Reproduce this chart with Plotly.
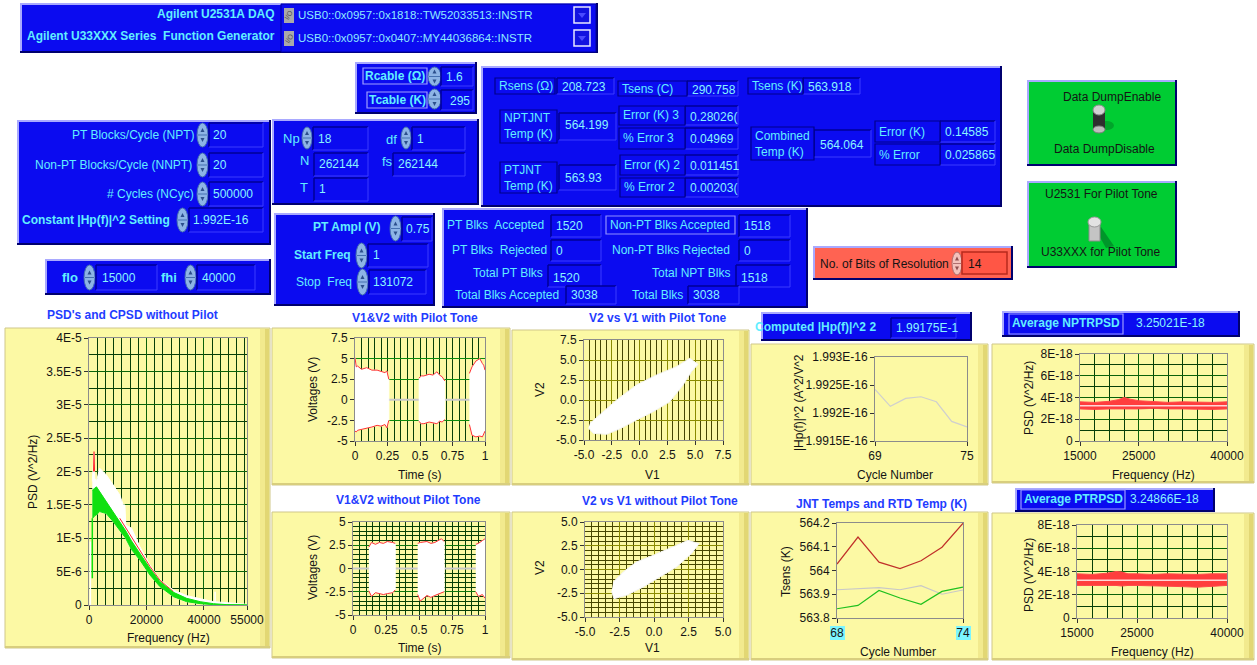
import plotly.graph_objects as go

W, H = 1257, 665
FONT = "Liberation Sans"

# ---------------- data ----------------
# PSD's and CPSD without pilot (Hz, V^2/Hz)
psd_freq = [1150, 1750, 2000, 2600, 3700, 6000, 8400, 10700, 11900, 12500, 12800,
            14800, 17700, 21200, 24700, 29400, 34000, 38700, 43300, 48000, 52700, 55000]
psd_v1_upper = [1.85e-5, 2.28e-5, 1.90e-5, 1.85e-5, 2.05e-5, 1.95e-5, 1.80e-5, 1.65e-5,
                1.50e-5, 1.50e-5, 1.20e-5, 1.15e-5, 8.75e-6, 6.0e-6, 3.75e-6, 2.25e-6,
                1.4e-6, 9.0e-7, 5.0e-7, 3.5e-7, 2.0e-7, 1.0e-7]
psd_v2_upper = [1.72e-5, 1.75e-5, 1.75e-5, 1.77e-5, 1.70e-5, 1.55e-5, 1.40e-5, 1.25e-5,
                1.18e-5, 1.14e-5, 1.11e-5, 9.6e-6, 7.75e-6, 5.5e-6, 3.5e-6, 1.9e-6,
                1.0e-6, 5.0e-7, 2.0e-7, 5.0e-8, 2.0e-8, 0.0]
psd_v2_lower = [1.30e-5, 1.32e-5, 1.34e-5, 1.35e-5, 1.40e-5, 1.37e-5, 1.25e-5, 1.12e-5,
                1.05e-5, 1.02e-5, 1.00e-5, 8.3e-6, 6.75e-6, 4.5e-6, 2.75e-6, 1.25e-6,
                5.0e-7, 2.0e-7, 5.0e-8, 0.0, 0.0, 0.0]
cpsd_freq = [1600, 1750, 1900, 10700, 14800, 17700, 21200, 24700, 29400]
cpsd_vals = [2.0e-5, 2.3e-5, 2.0e-5, 1.30e-5, 1.02e-5, 8.2e-6, 5.8e-6, 3.7e-6, 2.0e-6]
dc_spike_freq = [470, 470]
dc_spike_vals = [0.0, 9.5e-6]
hf_spike_freq = [43900, 43900]
hf_spike_vals = [3.0e-7, 2.0e-6]
v2_edge_freq = [1150, 1150]
v2_edge_vals = [4.0e-6, 1.3e-5]
psd_xticks = [0, 20000, 40000, 55000]
psd_xlabels = ["0", "20000", "40000", "55000"]
psd_yticks = [0, 5e-6, 1e-5, 1.5e-5, 2e-5, 2.5e-5, 3e-5, 3.5e-5, 4e-5]
psd_ylabels = ["0", "5E-6", "1E-5", "1.5E-5", "2E-5", "2.5E-5", "3E-5", "3.5E-5", "4E-5"]

# V1&V2 with pilot tone: burst envelopes (s, V)
wp_idle_t = [0, 1]
wp_idle_v = [0, 0]
wp_b1_t = [0.0, 0.01, 0.02, 0.05, 0.09, 0.13, 0.17, 0.20, 0.23, 0.245, 0.26]
wp_b1_hi = [5.1, 4.0, 4.1, 3.7, 3.9, 3.6, 3.6, 3.4, 3.3, 3.5, 2.5]
wp_b1_lo = [-3.8, -3.9, -3.7, -3.6, -3.4, -3.3, -3.1, -3.2, -3.0, -3.4, -2.5]
wp_b2_t = [0.49, 0.51, 0.53, 0.57, 0.60, 0.63, 0.65, 0.67, 0.69]
wp_b2_hi = [2.6, 2.9, 2.9, 3.1, 3.0, 3.4, 3.0, 2.8, 2.3]
wp_b2_lo = [-2.6, -2.9, -2.9, -2.7, -2.8, -2.9, -2.6, -2.7, -2.4]
wp_b3_t = [0.88, 0.90, 0.93, 0.96, 0.98, 0.99, 1.0]
wp_b3_hi = [3.2, 4.0, 4.7, 5.0, 4.4, 4.2, 3.6]
wp_b3_lo = [-3.0, -4.3, -4.5, -4.4, -4.5, -4.2, -3.8]

# V1&V2 without pilot tone
np_idle_t = [0, 1]
np_idle_v = [0, 0]
np_b1_t = [0.12, 0.14, 0.17, 0.20, 0.23, 0.26, 0.30, 0.32]
np_b1_hi = [2.3, 2.8, 2.6, 2.8, 2.7, 2.9, 2.8, 2.7]
np_b1_lo = [-2.4, -3.0, -2.6, -2.7, -2.8, -2.7, -2.6, -2.3]
np_b2_t = [0.49, 0.51, 0.56, 0.59, 0.62, 0.67, 0.69]
np_b2_hi = [2.7, 2.8, 2.9, 2.7, 2.8, 3.2, 2.9]
np_b2_lo = [-2.8, -3.5, -2.9, -3.1, -2.9, -2.6, -2.5]
np_b3_t = [0.93, 0.95, 0.98, 1.0]
np_b3_hi = [2.6, 2.7, 3.0, 3.2]
np_b3_lo = [-2.5, -3.0, -2.8, -3.2]
time_ticks = [0, 0.25, 0.5, 0.75, 1]
time_labels = ["0", "0.25", "0.5", "0.75", "1"]
volt_ticks_wp = [-5, -2.5, 0, 2.5, 5, 7.5]
volt_labels_wp = ["-5", "-2.5", "0", "2.5", "5", "7.5"]
volt_ticks_np = [-5, -2.5, 0, 2.5, 5]
volt_labels_np = ["-5", "-2.5", "0", "2.5", "5"]

# V2 vs V1 outlines of the point clouds (V)
xy_wp_v1 = [-4.6, -4.16, -2.97, -1.77, -0.28, 1.22, 2.72, 3.91, 4.66, 5.26, 4.51, 3.31,
            1.52, -0.28, -2.07, -3.56, -4.46]
xy_wp_v2 = [-3.5, -4.17, -4.29, -3.6, -2.5, -1.46, -0.21, 1.88, 3.54, 4.46, 5.21, 4.17,
            3.13, 1.88, 0.0, -1.88, -2.92]
xy_np_v1 = [-3.07, -2.9, -1.99, -0.78, 0.42, 1.63, 2.71, 3.27, 2.47, 1.39, -0.06, -1.27,
            -2.23, -2.95]
xy_np_v2 = [-2.3, -3.07, -2.72, -1.84, -0.79, 0.26, 1.67, 2.72, 3.07, 2.37, 1.49, 0.79,
            -0.26, -1.32]
xy_ticks_wp = [-5, -2.5, 0, 2.5, 5, 7.5]
xy_labels_wp = ["-5.0", "-2.5", "0.0", "2.5", "5.0", "7.5"]
xy_ticks_np = [-5, -2.5, 0, 2.5, 5]
xy_labels_np = ["-5.0", "-2.5", "0.0", "2.5", "5.0"]

# Computed |Hp(f)|^2 per cycle
hp_cycle = [69, 70, 71, 72, 73, 74, 75]
hp_vals = [1.99242e-16, 1.99212e-16, 1.99226e-16, 1.99229e-16, 1.99220e-16,
           1.99185e-16, 1.99175e-16]
hp_yticks = [1.9915e-16, 1.992e-16, 1.9925e-16, 1.993e-16]
hp_ylabels = ["1.9915E-16", "1.992E-16", "1.9925E-16", "1.993E-16"]

# JNT temps and RTD temp (K)
jnt_cycle = [68, 69, 70, 71, 72, 73, 74]
jnt_npt = [564.027, 564.141, 564.035, 564.008, 564.041, 564.098, 564.199]
jnt_rtd = [563.919, 563.923, 563.928, 563.919, 563.936, 563.900, 563.918]
jnt_pt = [563.839, 563.853, 563.916, 563.884, 563.858, 563.912, 563.930]
jnt_yticks = [563.8, 563.9, 564.0, 564.1, 564.2]
jnt_ylabels = ["563.8", "563.9", "564", "564.1", "564.2"]

# Ratio PSDs (Hz, V^2/Hz)
rpsd_freq = [15000, 17500, 20000, 21500, 22500, 23500, 25000, 27500, 30000, 32500, 35000,
             37500, 40000]
nptrpsd_hi = [3.60e-18, 3.55e-18, 3.65e-18, 3.80e-18, 4.00e-18, 3.85e-18, 3.70e-18,
              3.60e-18, 3.55e-18, 3.60e-18, 3.55e-18, 3.55e-18, 3.60e-18]
nptrpsd_lo = [2.95e-18, 2.90e-18, 2.95e-18, 2.95e-18, 3.00e-18, 2.95e-18, 2.95e-18,
              3.00e-18, 2.95e-18, 2.95e-18, 2.95e-18, 2.90e-18, 2.95e-18]
ptrpsd_hi = [3.80e-18, 3.75e-18, 3.85e-18, 4.00e-18, 3.95e-18, 3.80e-18, 3.80e-18,
             3.75e-18, 3.80e-18, 3.75e-18, 3.75e-18, 3.80e-18, 3.80e-18]
ptrpsd_lo = [2.80e-18, 2.75e-18, 2.80e-18, 2.80e-18, 2.75e-18, 2.80e-18, 2.80e-18,
             2.80e-18, 2.75e-18, 2.70e-18, 2.65e-18, 2.75e-18, 2.80e-18]
avg_nptrpsd = 3.25021e-18
avg_ptrpsd = 3.24866e-18
rpsd_xticks = [15000, 25000, 40000]
rpsd_xlabels = ["15000", "25000", "40000"]
rpsd_yticks = [0, 2e-18, 4e-18, 6e-18, 8e-18]
rpsd_ylabels = ["0", "2E-18", "4E-18", "6E-18", "8E-18"]

# ---------------- drawing helpers ----------------
BLUE = "#0B0BF0"
P_LIGHT = "#A9A9FF"
P_DARK = "#00006E"
LABEL = "#62EEFF"
VALUE = "#8AF4FF"
TITLE = "#1F3CFF"
INK = "#141414"

shapes = []
annotations = []


def X(px):
    return px / W


def Y(py):
    return 1 - py / H


def rect(x0, y0, x1, y1, fill, line=None, lw=1):
    shapes.append(dict(type="rect", xref="paper", yref="paper", x0=X(x0), x1=X(x1),
                       y0=Y(y1), y1=Y(y0), fillcolor=fill, layer="below",
                       line=dict(color=line if line else fill, width=lw if line else 0)))


def seg(x0, y0, x1, y1, color, w=1):
    shapes.append(dict(type="line", xref="paper", yref="paper", x0=X(x0), x1=X(x1),
                       y0=Y(y0), y1=Y(y1), layer="below", line=dict(color=color, width=w)))


def ellipse(x0, y0, x1, y1, fill, line=None, lw=1):
    shapes.append(dict(type="circle", xref="paper", yref="paper", x0=X(x0), x1=X(x1),
                       y0=Y(y1), y1=Y(y0), fillcolor=fill, layer="below",
                       line=dict(color=line if line else fill, width=lw if line else 0)))


def poly(pts, fill, line=None, lw=1):
    d = "M " + " L ".join(f"{X(a):.5f},{Y(b):.5f}" for a, b in pts) + " Z"
    shapes.append(dict(type="path", xref="paper", yref="paper", path=d, fillcolor=fill,
                       layer="below",
                       line=dict(color=line if line else fill, width=lw if line else 0)))


def text(x, y, s, size=12, color=LABEL, bold=False, anchor="left", angle=0):
    annotations.append(dict(xref="paper", yref="paper", x=X(x), y=Y(y),
                            text=f"<b>{s}</b>" if bold else s, showarrow=False,
                            xanchor=anchor, yanchor="middle", textangle=angle, borderpad=0,
                            font=dict(family=FONT, size=size, color=color)))


def raised(x0, y0, x1, y1, fill=BLUE, light=P_LIGHT, dark=P_DARK, w=2):
    rect(x0, y0, x1, y1, fill)
    seg(x0, y0 + w / 2, x1, y0 + w / 2, light, w)
    seg(x0 + w / 2, y0, x0 + w / 2, y1, light, w)
    seg(x0, y1 - w / 2, x1, y1 - w / 2, dark, w)
    seg(x1 - w / 2, y0, x1 - w / 2, y1, dark, w)


def sunken(x0, y0, x1, y1, fill=BLUE, dark="#000096", light="#3D3DFF"):
    rect(x0, y0, x1, y1, fill)
    seg(x0, y0, x1, y0, dark, 1.5)
    seg(x0, y0, x0, y1, dark, 1.5)
    seg(x0, y1, x1, y1, light, 1)
    seg(x1, y0, x1, y1, light, 1)


def label_box(x0, y0, x1, y1, edge="#00008A"):
    rect(x0, y0, x1, y1, BLUE, edge, 1.2)


def spinner(x0, y0, x1, y1, fill="#8DB4E6", edge="#4570B0", arrow="#2C4F8C"):
    ellipse(x0, y0, x1, y1, fill, edge, 1)
    cx = (x0 + x1) / 2
    cy = (y0 + y1) / 2
    seg(x0 + 1, cy, x1 - 1, cy, edge, 1)
    poly([(cx - 2, cy - 3), (cx + 2, cy - 3), (cx, cy - 7)], arrow)
    poly([(cx - 2, cy + 3), (cx + 2, cy + 3), (cx, cy + 7)], arrow)


def yellow_frame(x0, y0, x1, y1):
    rect(x0, y0, x1, y1, "#FCF9A4", "#CFC78A", 1)
    rect(x1 - 10, y0 + 1, x1 - 5, y1 - 1, "#F2EA8E")
    rect(x1 - 5, y0 + 1, x1 - 1, y1 - 1, "#E2D774")
    seg(x0, y1 - 1, x1, y1 - 1, "#D8CE7E", 2)


# ---------------- panels ----------------
# instrument selection
raised(20, 3, 598, 53)
rect(281, 4, 596, 52, BLUE, "#0000A0", 1)
text(276, 14, "Agilent U2531A DAQ", 12, LABEL, True, "right")
text(276, 36, "Agilent U33XXX Series\u00a0 Function Generator", 12, LABEL, True, "right")
for yy, s in [(15, "USB0::0x0957::0x1818::TW52033513::INSTR"),
              (38, "USB0::0x0957::0x0407::MY44036864::INSTR")]:
    rect(284, yy - 7, 294, yy + 8, "#A9A9A9")
    text(289, yy, "I/O", 7, "#505050", False, "center", -60)
    text(297, yy, s, 11.5, "#8EEAFF")
    rect(574, yy - 8, 590, yy + 8, "#1212E0", "#E8E8FF", 1.5)
    poly([(578, yy - 2), (586, yy - 2), (582, yy + 3)], "#4A4AFF")

# cable settings
raised(355, 62, 477, 114)
label_box(363, 68, 427, 84, "#A0A0FF")
text(395, 76, "Rcable (Ω)", 12, LABEL, True, "center")
spinner(428, 67, 441, 86)
sunken(441, 67, 473, 86)
text(445, 77, "1.6", 12, VALUE)
label_box(367, 92, 427, 108, "#A0A0FF")
text(397, 100, "Tcable (K)", 12, LABEL, True, "center")
spinner(428, 89, 441, 109)
sunken(441, 90, 473, 110)
text(449, 101, "295", 12, VALUE)

# results
raised(481, 66, 1002, 207)
results = [
    (495, 78, 555, 94, "Rsens (Ω)", 557, 614, 87, "208.723"),
    (618, 81, 687, 96, "Tsens (C)", 687, 738, 90, "290.758"),
    (748, 78, 803, 94, "Tsens (K)", 803, 860, 87, "563.918"),
    (619, 106, 685, 125, "Error (K) 3", 685, 738, 117, "0.28026("),
    (619, 128, 685, 149, "% Error 3", 685, 738, 139, "0.04969\u2009"),
    (875, 121, 940, 142, "Error (K)", 940, 995, 132, "0.14585\u2009"),
    (875, 144, 940, 165, "% Error", 940, 995, 155, "0.025865"),
    (620, 155, 685, 175, "Error (K) 2", 685, 738, 166, "0.011451"),
    (620, 178, 685, 197, "% Error 2", 685, 738, 188, "0.00203("),
]
for x0, y0, x1, y1, lab, vx0, vx1, vy, val in results:
    sunken(vx0, y0, vx1, y1)
    label_box(x0, y0, x1, y1)
    text(x0 + 3, (y0 + y1) / 2, lab, 12, LABEL)
    text(vx0 + 4, vy, val, 12, VALUE)
for x0, y0, x1, y1, lab, vx0, vx1, vy, val in [
        (500, 110, 557, 143, "NPTJNT<br>Temp (K)", 559, 616, 125, "564.199"),
        (500, 162, 557, 193, "PTJNT<br>Temp (K)", 559, 616, 178, "563.93"),
        (751, 127, 814, 160, "Combined<br>Temp (K)", 814, 871, 145, "564.064")]:
    sunken(vx0, y0 + 3, vx1, y1 - 3)
    label_box(x0, y0, x1, y1)
    annotations.append(dict(xref="paper", yref="paper", x=X(x0 + 3), y=Y((y0 + y1) / 2),
                            text=lab, showarrow=False, xanchor="left", yanchor="middle",
                            align="left", borderpad=0,
                            font=dict(family=FONT, size=12, color=LABEL)))
    text(vx0 + 5, vy, val, 12, VALUE)

# cycle settings
raised(17, 120, 271, 245)
for yy, lab, val, x_end in [(135, "PT Blocks/Cycle (NPT)", "20", 195),
                            (165, "Non-PT Blocks/Cycle (NNPT)", "20", 193),
                            (194, "# Cycles (NCyc)", "500000", 195)]:
    spinner(197, yy - 12, 208, yy + 12)
    sunken(209, yy - 12, 263, yy + 12)
    text(x_end, yy, lab, 12, LABEL, False, "right")
    text(212, yy, val, 12, VALUE)
spinner(177, 208, 188, 232)
sunken(189, 208, 263, 232)
text(21, 220, "Constant |Hp(f)|^2 Setting", 12, LABEL, True)
text(192, 220, "1.992E-16", 12, VALUE)

# FFT parameters
raised(272, 119, 479, 205)
spinner(302, 127, 312, 149)
sunken(313, 127, 368, 150)
text(282, 138, "Np", 13, LABEL)
text(317, 139, "18", 12, VALUE)
spinner(401, 127, 411, 149)
sunken(412, 127, 465, 150)
text(385, 139, "df", 13, LABEL)
text(416, 139, "1", 12, VALUE)
sunken(314, 153, 368, 176)
text(299, 161, "N", 13, LABEL)
text(318, 164, "262144", 12, VALUE)
sunken(393, 153, 465, 176)
text(381, 162, "fs", 13, LABEL)
text(397, 164, "262144", 12, VALUE)
sunken(314, 178, 368, 201)
text(299, 187, "T", 13, LABEL)
text(318, 189, "1", 12, VALUE)

# band limits
raised(45, 259, 271, 295)
text(61, 277, "flo", 13, LABEL, True)
spinner(84, 265, 95, 290)
sunken(96, 265, 157, 290)
text(101, 278, "15000", 12, VALUE)
text(160, 277, "fhi", 13, LABEL, True)
spinner(185, 265, 196, 290)
sunken(197, 265, 255, 290)
text(201, 278, "40000", 12, VALUE)

# pilot tone
raised(274, 213, 435, 306)
text(312, 227, "PT Ampl (V)", 12, LABEL, True)
spinner(390, 216, 401, 241)
sunken(402, 217, 432, 241)
text(405, 229, "0.75", 12, VALUE)
text(293, 255, "Start Freq", 12, LABEL, True)
spinner(356, 243, 367, 268)
sunken(368, 244, 428, 267)
text(372, 255, "1", 12, VALUE)
text(295, 282, "Stop\u00a0 Freq", 12, LABEL)
spinner(357, 269, 368, 295)
sunken(369, 270, 426, 294)
text(372, 282, "131072", 12, VALUE)

# block counters
raised(442, 208, 808, 308)
for x0, x1, y0, y1, val in [(551, 601, 215, 237, "1520"), (551, 601, 240, 261, "0"),
                            (548, 601, 265, 287, "1520"), (566, 616, 286, 304, "3038"),
                            (739, 790, 215, 237, "1518"), (739, 790, 240, 261, "0"),
                            (736, 790, 265, 287, "1518"), (688, 739, 286, 304, "3038")]:
    sunken(x0, y0, x1, y1)
    text(x0 + 4, (y0 + y1) / 2 + (2 if y0 == 265 else 0), val, 12, VALUE)
label_box(606, 216, 735, 234, "#9090FF")
text(446, 225, "PT Blks\u00a0 Accepted", 12, LABEL)
text(670, 225, "Non-PT Blks Accepted", 12, LABEL, False, "center")
text(451, 250, "PT Blks\u00a0 Rejected", 12, LABEL)
text(731, 250, "Non-PT Blks Rejected", 12, LABEL, False, "right")
text(544, 273, "Total PT Blks", 12, LABEL, False, "right")
text(731, 273, "Total NPT Blks", 12, LABEL, False, "right")
text(454, 295, "Total Blks Accepted", 12, LABEL)
text(631, 295, "Total Blks", 12, LABEL)

# ADC resolution
raised(813, 246, 1013, 280, "#FF6352")
text(819, 264, "No. of Bits of Resolution", 12, INK)
spinner(952, 252, 962, 275, "#F4C2BC", "#B07070", "#905050")
rect(962, 252, 1007, 274, "#FF5645", "#B82A1C", 1.5)
text(967, 264, "14", 12, INK)

# switches
raised(1027, 80, 1177, 166, "#00CC33")
text(1112, 97, "Data DumpEnable", 12, INK, False, "center")
text(1104, 149, "Data DumpDisable", 12, INK, False, "center")
ellipse(1099, 121, 1114, 130, "#00A52A")
rect(1093, 111, 1105, 130, "#2E2E2E")
ellipse(1093, 105, 1105, 115, "#D2D2D2", "#8A8A8A", 1)
ellipse(1093, 126, 1105, 133, "#BDBDBD", "#7A7A7A", 1)
raised(1027, 181, 1177, 268, "#00CC33")
text(1101, 194, "U2531 For Pilot Tone", 12, INK, False, "center")
text(1101, 252, "U33XXX for Pilot Tone", 12, INK, False, "center")
poly([(1096, 230), (1101, 227), (1114, 246), (1106, 248)], "#00962A")
rect(1089, 222, 1100, 241, "#C4C4C4", "#8C8C8C", 1)
ellipse(1088, 217, 1101, 227, "#E2E2E2", "#9A9A9A", 1)

# ---------------- chart frames ----------------
for fx0, fy0, fx1, fy1 in [(5, 328, 270, 648), (272, 328, 510, 485), (272, 512, 510, 658),
                           (512, 330, 749, 485), (512, 512, 749, 660), (751, 344, 988, 485),
                           (751, 512, 988, 660), (992, 344, 1254, 483), (992, 513, 1254, 660)]:
    yellow_frame(fx0, fy0, fx1, fy1)

text(132, 315, "PSD's and CPSD without Pilot", 12, TITLE, True, "center")
text(415, 318, "V1&amp;V2 with Pilot Tone", 12, TITLE, True, "center")
text(408, 500, "V1&amp;V2 without Pilot Tone", 12, TITLE, True, "center")
text(657, 318, "V2 vs V1 with Pilot Tone", 12, TITLE, True, "center")
text(660, 501, "V2 vs V1 without Pilot Tone", 12, TITLE, True, "center")
text(881, 504, "JNT Temps and RTD Temp (K)", 12, TITLE, True, "center")

# indicator strips above the right-hand charts
raised(761, 312, 972, 341)
sunken(891, 318, 956, 338)
text(754, 327, "Computed |Hp(f)|^2 2", 12, LABEL, True)
text(895, 328, "1.99175E-1", 12, VALUE)
raised(1002, 311, 1240, 337)
label_box(1009, 314, 1123, 334, "#9A9AFF")
text(1066, 323, "Average NPTRPSD", 12, LABEL, True, "center")
text(1135, 323, "3.25021E-18", 12, VALUE)
raised(1015, 488, 1215, 512)
label_box(1021, 490, 1125, 509, "#9A9AFF")
text(1073, 499, "Average PTRPSD", 12, LABEL, True, "center")
text(1129, 499, "3.24866E-18", 12, VALUE)

# cyan highlight behind the JNT cycle range labels
rect(830, 626, 845, 640, "#7CF6FF")
rect(956, 626, 971, 640, "#7CF6FF")

# axis titles
for x, y, s, ang in [(33, 472, "PSD (V^2/Hz)", -90), (168, 638, "Frequency (Hz)", 0),
                     (313, 390, "Voltages (V)", -90), (420, 475, "Time (s)", 0),
                     (313, 568, "Voltages (V)", -90), (420, 648, "Time (s)", 0),
                     (540, 390, "V2", -90), (652, 475, "V1", 0),
                     (540, 568, "V2", -90), (652, 648, "V1", 0),
                     (799, 403, "|Hp(f)|^2 (A^2/V^2", -90), (895, 475, "Cycle Number", 0),
                     (786, 572, "Tsens (K)", -90), (898, 652, "Cycle Number", 0),
                     (1029, 398, "PSD (V^2/Hz)", -90), (1153, 475, "Frequency (Hz)", 0),
                     (1029, 575, "PSD (V^2/Hz)", -90), (1152, 652, "Frequency (Hz)", 0)]:
    text(x, y, s, 12, INK, False, "center", ang)

# ---------------- plots ----------------
fig = go.Figure()


def names(n):
    return ("x" if n == 1 else f"x{n}", "y" if n == 1 else f"y{n}",
            "xaxis" if n == 1 else f"xaxis{n}", "yaxis" if n == 1 else f"yaxis{n}")


def make_axes(n, xpix, ypix, xrange, yrange, xt, yt, xgrid=None, ygrid=None,
              xminor=None, yminor=None):
    xs, ys, xk, yk = names(n)
    common = dict(ticks="outside", ticklen=4, tickwidth=1, tickcolor="#333333",
                  tickfont=dict(family=FONT, size=12, color=INK), showline=True,
                  linecolor="#8C8C8C", linewidth=1, mirror=True, zeroline=False,
                  fixedrange=True, tickmode="array", automargin=False)
    xa = dict(common, domain=[X(xpix[0]), X(xpix[1])], range=xrange, anchor=ys,
              tickvals=xt[0], ticktext=xt[1], showgrid=xgrid is not None)
    ya = dict(common, domain=[Y(ypix[1]), Y(ypix[0])], range=yrange, anchor=xs,
              tickvals=yt[0], ticktext=yt[1], showgrid=ygrid is not None)
    if xgrid:
        xa["gridcolor"] = xgrid
    if ygrid:
        ya["gridcolor"] = ygrid
    if xminor:
        xa["minor"] = dict(tickmode="linear", tick0=xrange[0], dtick=xminor[0],
                           showgrid=True, gridcolor=xminor[1], ticks="")
    if yminor:
        ya["minor"] = dict(tickmode="linear", tick0=yrange[0], dtick=yminor[0],
                           showgrid=True, gridcolor=yminor[1], ticks="")
    fig.update_layout({xk: xa, yk: ya})
    return xs, ys


def band(xs, ys, x, hi, lo, color, line=None, lw=0.8):
    fig.add_trace(go.Scatter(x=list(x) + list(x)[::-1], y=list(hi) + list(lo)[::-1],
                             xaxis=xs, yaxis=ys, mode="lines", fill="toself",
                             fillcolor=color, line=dict(color=line or color, width=lw),
                             hoverinfo="skip"))


def curve(xs, ys, x, y, color, w=1):
    fig.add_trace(go.Scatter(x=x, y=y, xaxis=xs, yaxis=ys, mode="lines",
                             line=dict(color=color, width=w), hoverinfo="skip"))


G_MAJ, G_MIN = "#0A620A", "#073F07"
Y_MAJ, Y_MIN = "#8A8A00", "#464600"

# 1: PSD's and CPSD
xs, ys = make_axes(1, (89, 247), (338, 605), [0, 55000], [0, 4e-5],
                   (psd_xticks, psd_xlabels), (psd_yticks, psd_ylabels),
                   G_MAJ, G_MAJ, (20000 / 7, G_MIN), (2.5e-6, G_MIN))
band(xs, ys, psd_freq, psd_v1_upper, psd_v2_lower, "#FFFFFF", "#FFFFFF", 1)
curve(xs, ys, cpsd_freq[:3], cpsd_vals[:3], "#FF2A2A", 1.2)
curve(xs, ys, cpsd_freq[3:], cpsd_vals[3:], "#FF2A2A", 1)
band(xs, ys, psd_freq, psd_v2_upper, psd_v2_lower, "#10E010", "#10E010", 1)
curve(xs, ys, dc_spike_freq, dc_spike_vals, "#FFFFFF", 1.5)
curve(xs, ys, v2_edge_freq, v2_edge_vals, "#10E010", 1.5)
curve(xs, ys, hf_spike_freq, hf_spike_vals, "#FFFFFF", 1.5)

# 2: V1&V2 with pilot tone
xs, ys = make_axes(2, (355, 485), (338, 441), [0, 1], [-5, 7.5],
                   (time_ticks, time_labels), (volt_ticks_wp, volt_labels_wp),
                   G_MIN, "#0C8A0C", (0.05, G_MIN), None)
curve(xs, ys, wp_idle_t, wp_idle_v, "#C8C8C8", 2)
for t, hi, lo in [(wp_b1_t, wp_b1_hi, wp_b1_lo), (wp_b2_t, wp_b2_hi, wp_b2_lo),
                  (wp_b3_t, wp_b3_hi, wp_b3_lo)]:
    band(xs, ys, t, hi, lo, "#FFFFFF", "#FFFFFF", 1)
    curve(xs, ys, t, hi, "#FF3030", 1)
    curve(xs, ys, t, lo, "#FF3030", 1)

# 3: V1&V2 without pilot tone
xs, ys = make_axes(3, (353, 485), (522, 615), [0, 1], [-5, 5],
                   (time_ticks, time_labels), (volt_ticks_np, volt_labels_np),
                   G_MIN, "#0B760B", (0.05, G_MIN), (0.5, G_MIN))
curve(xs, ys, np_idle_t, np_idle_v, "#C8C8C8", 2)
for t, hi, lo in [(np_b1_t, np_b1_hi, np_b1_lo), (np_b2_t, np_b2_hi, np_b2_lo),
                  (np_b3_t, np_b3_hi, np_b3_lo)]:
    band(xs, ys, t, hi, lo, "#FFFFFF", "#FFFFFF", 1)
    curve(xs, ys, t, hi, "#FF3030", 1)
    curve(xs, ys, t, lo, "#FF3030", 1)

# 4: V2 vs V1 with pilot tone
xs, ys = make_axes(4, (584, 723), (340, 440), [-5, 7.5], [-5, 7.5],
                   (xy_ticks_wp, xy_labels_wp), (xy_ticks_wp, xy_labels_wp),
                   Y_MAJ, Y_MAJ, (0.5, Y_MIN), None)
fig.add_trace(go.Scatter(x=xy_wp_v1, y=xy_wp_v2, xaxis=xs, yaxis=ys, mode="lines",
                         fill="toself", fillcolor="#FFFFFF",
                         line=dict(color="#F4F4F4", width=1), hoverinfo="skip"))

# 5: V2 vs V1 without pilot tone
xs, ys = make_axes(5, (585, 723), (522, 617), [-5, 5], [-5, 5],
                   (xy_ticks_np, xy_labels_np), (xy_ticks_np, xy_labels_np),
                   Y_MAJ, Y_MAJ, (0.5, Y_MIN), (0.5, Y_MIN))
fig.add_trace(go.Scatter(x=xy_np_v1, y=xy_np_v2, xaxis=xs, yaxis=ys, mode="lines",
                         fill="toself", fillcolor="#FFFFFF",
                         line=dict(color="#F4F4F4", width=1), hoverinfo="skip"))

# 6: computed |Hp(f)|^2
xs, ys = make_axes(6, (875, 967), (357, 441), [69, 75], [1.9915e-16, 1.993e-16],
                   ([69, 75], ["69", "75"]), (hp_yticks, hp_ylabels))
curve(xs, ys, hp_cycle, hp_vals, "#CFCFCF", 1.2)

# 7: JNT temps and RTD temp
xs, ys = make_axes(7, (837, 963), (523, 618), [68, 74], [563.8, 564.2],
                   ([68, 74], ["68", "74"]), (jnt_yticks, jnt_ylabels))
curve(xs, ys, jnt_cycle, jnt_npt, "#C0302A", 1.2)
curve(xs, ys, jnt_cycle, jnt_rtd, "#C8C8C8", 1.2)
curve(xs, ys, jnt_cycle, jnt_pt, "#1EC01E", 1.2)

# 8: non-pilot ratio PSD
xs, ys = make_axes(8, (1080, 1227), (354, 441), [15000, 40000], [0, 8e-18],
                   (rpsd_xticks, rpsd_xlabels), (rpsd_yticks, rpsd_ylabels),
                   G_MAJ, G_MAJ, (2500, G_MIN), (1e-18, G_MIN))
band(xs, ys, rpsd_freq, nptrpsd_hi, nptrpsd_lo, "#FF3D3D", "#FF4A4A", 1)
curve(xs, ys, [rpsd_freq[0], rpsd_freq[-1]], [avg_nptrpsd, avg_nptrpsd], "#FFD6D6", 1.5)

# 9: pilot ratio PSD
xs, ys = make_axes(9, (1077, 1227), (525, 618), [15000, 40000], [0, 8e-18],
                   (rpsd_xticks, rpsd_xlabels), (rpsd_yticks, rpsd_ylabels),
                   G_MAJ, G_MAJ, (2500, G_MIN), (1e-18, G_MIN))
band(xs, ys, rpsd_freq, ptrpsd_hi, ptrpsd_lo, "#FF3D3D", "#FF4A4A", 1)
curve(xs, ys, [rpsd_freq[0], rpsd_freq[-1]], [avg_ptrpsd, avg_ptrpsd], "#FFD6D6", 1.5)

fig.update_layout(width=W, height=H, autosize=False,
                  margin=dict(l=0, r=0, t=0, b=0, pad=0),
                  paper_bgcolor="#FFFFFF", plot_bgcolor="#000000", showlegend=False,
                  shapes=shapes, annotations=annotations, hovermode=False)

# page body without default margins so the figure sits flush in the window
fig.write_html("out.html", config={"displayModeBar": False},
               post_script="document.body.style.margin='0';"
                           "document.body.style.overflow='hidden';")
